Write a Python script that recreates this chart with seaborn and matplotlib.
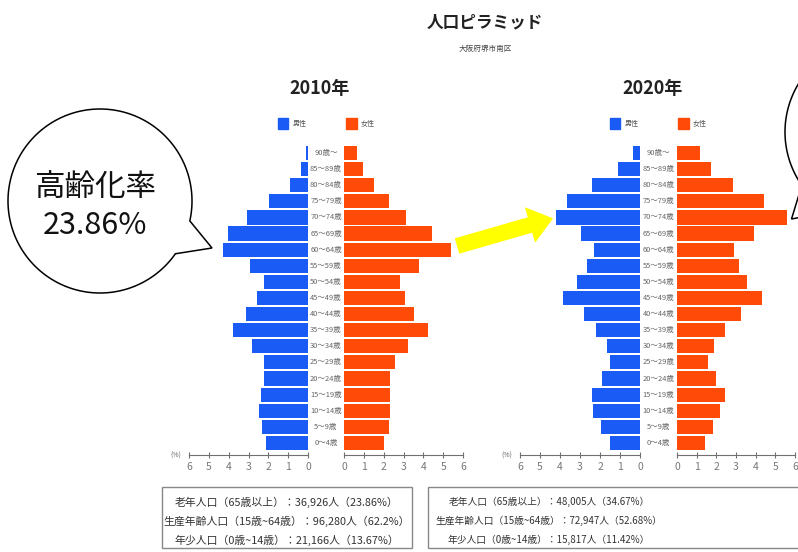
import numpy as np
import pandas as pd
import matplotlib.pyplot as plt
from matplotlib.patches import Rectangle, Polygon, FancyArrow
from matplotlib.transforms import blended_transform_factory
import seaborn as sns

# Age groups, top to bottom
ages = ["90歳～", "85～89歳", "80～84歳", "75～79歳", "70～74歳", "65～69歳",
        "60～64歳", "55～59歳", "50～54歳", "45～49歳", "40～44歳", "35～39歳",
        "30～34歳", "25～29歳", "20～24歳", "15～19歳", "10～14歳", "5～9歳", "0～4歳"]

# Share of population (%)
male_2010 = [0.10, 0.35, 0.93, 1.96, 3.09, 4.05, 4.30, 2.92, 2.21, 2.58,
             3.12, 3.76, 2.83, 2.24, 2.21, 2.36, 2.45, 2.31, 2.14]
female_2010 = [0.66, 0.96, 1.50, 2.25, 3.14, 4.45, 5.38, 3.78, 2.80, 3.06,
               3.51, 4.24, 3.24, 2.55, 2.34, 2.34, 2.34, 2.27, 2.03]
male_2020 = [0.33, 1.08, 2.38, 3.63, 4.20, 2.95, 2.28, 2.63, 3.17, 3.83,
             2.82, 2.22, 1.67, 1.50, 1.90, 2.38, 2.33, 1.95, 1.50]
female_2020 = [1.15, 1.72, 2.87, 4.43, 5.57, 3.89, 2.91, 3.13, 3.58, 4.31,
               3.24, 2.45, 1.86, 1.60, 1.98, 2.45, 2.20, 1.81, 1.40]

ticks = [0, 1, 2, 3, 4, 5, 6]

info_2010 = ["老年人口（65歳以上）：36,926人（23.86%）",
             "生産年齢人口（15歳~64歳）：96,280人（62.2%）",
             "年少人口（0歳~14歳）：21,166人（13.67%）"]
info_2020 = ["老年人口（65歳以上）：48,005人（34.67%）",
             "生産年齢人口（15歳~64歳）：72,947人（52.68%）",
             "年少人口（0歳~14歳）：15,817人（11.42%）"]

BLUE = "#1A5AF5"
ORANGE = "#FF4A08"
GRAY = "#707070"

sns.set_theme(style="white")
plt.rcParams["font.family"] = ["Noto Sans CJK JP", "DejaVu Sans"]

W, H = 798, 552
fig = plt.figure(figsize=(W / 100, H / 100), dpi=100)


def fx(px):
    return px / W


def fy(py):
    return 1 - py / H


TOP, BOTTOM = 145, 455


def side_axes(x0, x1, values, color, reverse):
    ax = fig.add_axes([fx(x0), fy(BOTTOM), (x1 - x0) / W, (BOTTOM - TOP) / H])
    df = pd.DataFrame({"age": ages, "pct": values})
    sns.barplot(data=df, x="pct", y="age", color=color, saturation=1,
                width=0.88, linewidth=0, ax=ax)
    ax.set_ylim(18.75, -0.5)
    ax.set_xlim((6, 0) if reverse else (0, 6))
    ax.set_xticks(ticks)
    ax.set_xlabel("")
    ax.set_ylabel("")
    ax.set_yticks([])
    for s in ["top", "right", "left"]:
        ax.spines[s].set_visible(False)
    ax.spines["bottom"].set_color(GRAY)
    ax.spines["bottom"].set_linewidth(0.8)
    ax.tick_params(axis="x", bottom=True, direction="inout", length=4,
                   width=0.8, color=GRAY, labelcolor="#777777",
                   labelsize=7.5, pad=3)
    ax.patch.set_alpha(0)
    return ax


def pyramid(male, female, m6, m0, f0, f6, year):
    ax_m = side_axes(m6, m0, male, BLUE, True)
    side_axes(f0, f6, female, ORANGE, False)
    cx = (m0 + f0) / 2
    trans = blended_transform_factory(fig.transFigure, ax_m.transData)
    for i, a in enumerate(ages):
        ax_m.text(fx(cx), i, a, transform=trans, ha="center", va="center",
                  fontsize=5.4, color="#666666")
    fig.text(fx(m6 - 13), fy(456), "(%)", fontsize=5, color="#666666",
             ha="center", va="center")
    fig.text(fx(cx - 6), fy(88), year, fontsize=13, fontweight="bold",
             ha="center", va="center", color="#222222")


pyramid(male_2010, female_2010, 189, 308, 344, 463, "2010年")
pyramid(male_2020, female_2020, 520, 640, 677, 795, "2020年")

fig.text(fx(485), fy(22), "人口ピラミッド", fontsize=12, fontweight="bold",
         ha="center", va="center", color="#222222")
fig.text(fx(485), fy(49), "大阪府堺市南区", fontsize=5.5, ha="center",
         va="center", color="#444444")

# overlay in pixel coordinates for legend, boxes, bubbles and arrow
ov = fig.add_axes([0, 0, 1, 1], zorder=10)
ov.set_xlim(0, W)
ov.set_ylim(H, 0)
ov.axis("off")
ov.patch.set_alpha(0)

for lx, ox in [(278, 346), (610, 678)]:
    ov.add_patch(Rectangle((lx, 118), 10, 11, color=BLUE))
    ov.text(lx + 15, 124, "男性", fontsize=5, va="center", color="#555555")
    ov.add_patch(Rectangle((ox, 118), 11, 11, color=ORANGE))
    ov.text(ox + 15, 124, "女性", fontsize=5, va="center", color="#555555")

# info boxes
for (x0, x1, tx, fs, lines) in [(162, 412, 287, 7.8, info_2010),
                                (428, 810, 549, 7.0, info_2020)]:
    ov.add_patch(Rectangle((x0, 487), x1 - x0, 61, fill=False,
                           edgecolor="#888888", linewidth=1))
    for j, line in enumerate(lines):
        ov.text(tx, 502 + j * 19, line, fontsize=fs, ha="center",
                va="center", color="#333333")


def bubble(cx, cy, r, a1, a2, tip):
    t = np.radians(np.linspace(a2, a1 + 360, 240))
    pts = np.column_stack([cx + r * np.cos(t), cy + r * np.sin(t)])
    pts = np.vstack([pts, tip])
    ov.add_patch(Polygon(pts, closed=True, facecolor="white",
                         edgecolor="black", linewidth=1.1))


bubble(100, 201, 92, 12.5, 35, (212, 248))
ov.text(95, 188, "高齢化率", fontsize=22, ha="center", va="center", color="#111111")
ov.text(95, 225, "23.86%", fontsize=22, ha="center", va="center", color="#111111")

bubble(878, 132, 93, 121, 145, (791.5, 219))

# yellow arrow between the two pyramids
ov.add_patch(FancyArrow(457, 246, 73, -21, width=16, head_width=37,
                        head_length=24, length_includes_head=False,
                        color="#FFFF00", linewidth=0))

fig.savefig("out.png", dpi=100)
